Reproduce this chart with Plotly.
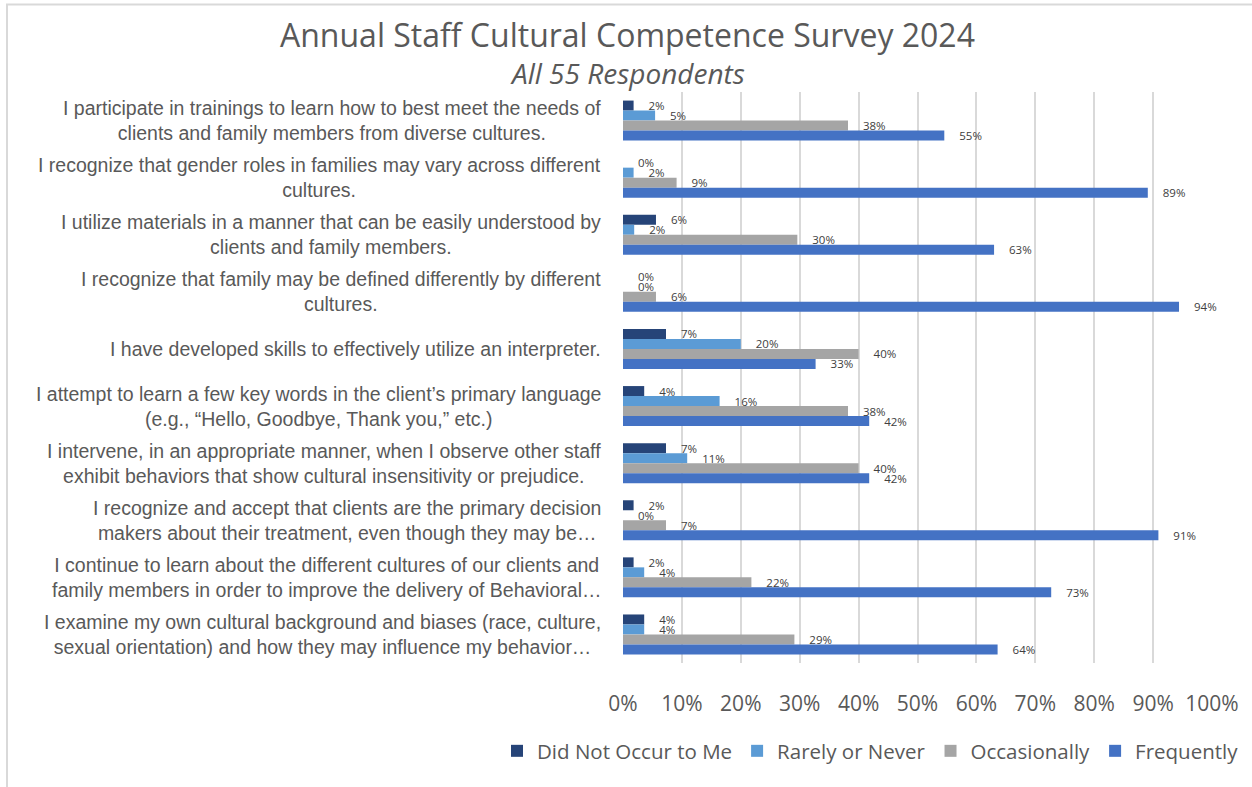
import plotly.graph_objects as go

# Survey statements, listed top to bottom
statements = [
    "I participate in trainings to learn how to best meet the needs of<br>clients and family members from diverse cultures.",
    "I recognize that gender roles in families may vary across different<br>cultures.",
    "I utilize materials in a manner that can be easily understood by<br>clients and family members.",
    "I recognize that family may be defined differently by different<br>cultures.",
    "I have developed skills to effectively utilize an interpreter.",
    "I attempt to learn a few key words in the client’s primary language<br>(e.g., “Hello, Goodbye, Thank you,” etc.)",
    "I intervene, in an appropriate manner, when I observe other staff<br>exhibit behaviors that show cultural insensitivity or prejudice.",
    "I recognize and accept that clients are the primary decision<br>makers about their treatment, even though they may be…",
    "I continue to learn about the different cultures of our clients and<br>family members in order to improve the delivery of Behavioral…",
    "I examine my own cultural background and biases (race, culture,<br>sexual orientation) and how they may influence my behavior…",
]
categories = [f"Q{i + 1}" for i in range(len(statements))]

# Share of respondents (%) per answer
did_not_occur = [1.8, 0.0, 5.6, 0.0, 7.3, 3.6, 7.3, 1.8, 1.8, 3.6]
rarely_never = [5.45, 1.8, 1.9, 0.0, 20.0, 16.4, 10.9, 0.0, 3.6, 3.6]
occasionally = [38.2, 9.1, 29.6, 5.6, 40.0, 38.2, 40.0, 7.3, 21.8, 29.1]
frequently = [54.55, 89.1, 63.0, 94.4, 32.7, 41.8, 41.8, 90.9, 72.7, 63.6]

series_names = ["Did Not Occur to Me", "Rarely or Never", "Occasionally", "Frequently"]
series_values = [did_not_occur, rarely_never, occasionally, frequently]
series_colors = ["#264478", "#5B9BD5", "#A5A5A5", "#4472C4"]

tick_vals = [0, 10, 20, 30, 40, 50, 60, 70, 80, 90, 100]
tick_text = ["0%", "10%", "20%", "30%", "40%", "50%", "60%", "70%", "80%", "90%", "100%"]

title_text = "Annual Staff Cultural Competence Survey 2024"
subtitle_text = "All 55 Respondents"

SANS = "Open Sans, Lato, sans-serif"
ARIAL = "Liberation Sans, Arial, sans-serif"

# Plot area in pixels (for placing titles relative to it)
PLOT_L, PLOT_R, PLOT_T, PLOT_B = 623, 1212, 92, 663
PLOT_W, PLOT_H = PLOT_R - PLOT_L, PLOT_B - PLOT_T


def px_x(px):
    return (px - PLOT_L) / PLOT_W


def px_y(px):
    return (PLOT_B - px) / PLOT_H


fig = go.Figure()
for name, vals, color in zip(series_names, series_values, series_colors):
    fig.add_trace(go.Bar(
        y=categories,
        x=vals,
        name=name,
        orientation="h",
        marker=dict(color=color, line=dict(width=0)),
        texttemplate="\u00a0\u00a0\u00a0\u00a0%{x:.0f}%",
        textposition="outside",
        constraintext="none",
        textfont=dict(family=SANS, size=11.5, color="#404040"),
        cliponaxis=False,
        hoverinfo="skip",
    ))

# Statement labels, centred lines, right edge just left of the plot
annotations = []
for cat, text in zip(categories, statements):
    annotations.append(dict(
        x=0, xref="paper", y=cat, yref="y",
        xanchor="right", yanchor="middle", xshift=-20,
        text=text, showarrow=False, align="center",
        font=dict(family=ARIAL, size=19.5, color="#595959"),
    ))

annotations.append(dict(
    x=px_x(627), xref="paper", y=px_y(34), yref="paper",
    xanchor="center", yanchor="middle", showarrow=False,
    text=title_text,
    font=dict(family=SANS, size=32, color="#595959"),
))
annotations.append(dict(
    x=px_x(627), xref="paper", y=px_y(73), yref="paper",
    xanchor="center", yanchor="middle", showarrow=False,
    text=f"<i>{subtitle_text}</i>",
    font=dict(family=SANS, size=28, color="#595959"),
))

fig.update_layout(
    width=1252,
    height=787,
    margin=dict(l=PLOT_L, r=1252 - PLOT_R, t=PLOT_T, b=787 - PLOT_B),
    paper_bgcolor="white",
    plot_bgcolor="white",
    barmode="group",
    bargap=0.30,
    bargroupgap=0.0,
    showlegend=True,
    legend=dict(
        orientation="h",
        x=px_x(497), xanchor="left",
        y=px_y(751), yanchor="middle",
        font=dict(family=SANS, size=20.5, color="#595959"),
        traceorder="normal",
        itemwidth=30,
    ),
    annotations=annotations,
    shapes=[
        dict(type="line", xref="paper", yref="paper",
             x0=px_x(6), x1=px_x(1252),
             y0=px_y(4.5), y1=px_y(4.5),
             line=dict(color="#d9d9d9", width=2)),
        dict(type="line", xref="paper", yref="paper",
             x0=px_x(7), x1=px_x(7),
             y0=px_y(4), y1=px_y(787),
             line=dict(color="#d9d9d9", width=2)),
    ],
)

fig.update_xaxes(
    range=[0, 100],
    tickvals=tick_vals,
    ticktext=tick_text,
    showgrid=True,
    gridcolor="#d9d9d9",
    gridwidth=2,
    zeroline=False,
    showline=False,
    ticks="",
    ticklabelstandoff=26,
    tickfont=dict(family=SANS, size=21, color="#595959"),
)
fig.update_yaxes(
    categoryorder="array",
    categoryarray=categories,
    autorange="reversed",
    showticklabels=False,
    showgrid=False,
    zeroline=False,
    ticks="",
)

fig.write_html("out.html")
